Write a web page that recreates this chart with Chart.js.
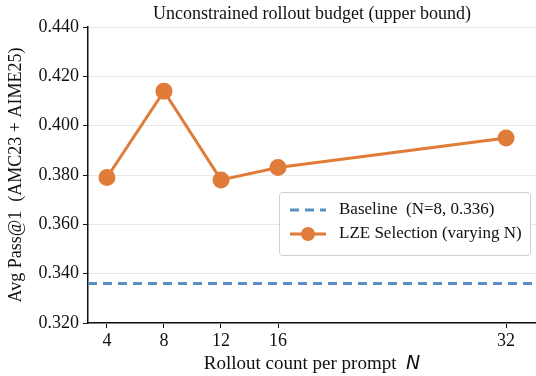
<!DOCTYPE html>
<html>
<head>
<meta charset="utf-8">
<script src="https://cdn.jsdelivr.net/npm/chart.js@4"></script>
<style>
  html, body { margin: 0; padding: 0; background: #fff; }
  #wrap { width: 536px; height: 376px; }
</style>
</head>
<body>
<div id="wrap"><canvas id="canvas" width="536" height="376"></canvas></div>
<script>
var rolloutCounts = [4, 8, 12, 16, 32];
var lzePass = [0.379, 0.414, 0.378, 0.383, 0.395];
var baselineValue = 0.336;
var baselineSpan = [2.67, 34.1];
var yTicks = [0.320, 0.340, 0.360, 0.380, 0.400, 0.420, 0.440];

var orange = '#E07B39';
var blue = '#5A8FC2';
var serif = "'Liberation Serif', 'Times New Roman', serif";

// title centred over the plot area
var plotTitle = {
    id: 'plotTitle',
    afterDraw: function(chart) {
        var ctx = chart.ctx;
        var a = chart.chartArea;
        ctx.save();
        ctx.font = '18px ' + serif;
        ctx.fillStyle = '#111';
        ctx.textAlign = 'center';
        ctx.textBaseline = 'middle';
        ctx.fillText('Unconstrained rollout budget (upper bound)', (a.left + a.right) / 2, 14);
        ctx.restore();
    }
};

// legend box drawn inside the plot, like matplotlib's
var boxLegend = {
    id: 'boxLegend',
    afterDraw: function(chart) {
        var ctx = chart.ctx;
        var x = 279, y = 192, w = 251, h = 63;
        ctx.save();
        ctx.fillStyle = 'rgba(255,255,255,0.9)';
        ctx.strokeStyle = '#d0d0d0';
        ctx.lineWidth = 1;
        ctx.beginPath();
        ctx.roundRect(x + 0.5, y + 0.5, w, h, 3);
        ctx.fill();
        ctx.stroke();
        ctx.font = '17px ' + serif;
        ctx.textBaseline = 'middle';
        chart.data.datasets.forEach(function(ds, i) {
            var cy = y + 18 + i * 24;
            ctx.strokeStyle = ds.borderColor;
            ctx.lineWidth = 3;
            ctx.setLineDash(ds.borderDash || []);
            ctx.beginPath();
            ctx.moveTo(x + 11, cy);
            ctx.lineTo(x + 47, cy);
            ctx.stroke();
            ctx.setLineDash([]);
            if (ds.pointRadius) {
                ctx.fillStyle = ds.pointBackgroundColor;
                ctx.beginPath();
                ctx.arc(x + 29, cy, 7, 0, Math.PI * 2);
                ctx.fill();
            }
            ctx.fillStyle = '#111';
            ctx.fillText(ds.label, x + 60, cy);
        });
        ctx.restore();
    }
};

// x title with italic N
var xTitle = {
    id: 'xTitle',
    afterDraw: function(chart) {
        var ctx = chart.ctx;
        var a = chart.chartArea;
        var part1 = 'Rollout count per prompt  ';
        var part2 = 'N';
        ctx.save();
        ctx.font = '19px ' + serif;
        var w1 = ctx.measureText(part1).width;
        ctx.font = 'italic 19px DejaVu Sans';
        var w2 = ctx.measureText(part2).width;
        var cx = (a.left + a.right) / 2;
        var sx = cx - (w1 + w2) / 2;
        ctx.fillStyle = '#111';
        ctx.textBaseline = 'alphabetic';
        ctx.font = '19px ' + serif;
        ctx.fillText(part1, sx, 369);
        ctx.font = 'italic 19px DejaVu Sans';
        ctx.fillText(part2, sx + w1, 369);
        ctx.restore();
    }
};

var ctx = document.getElementById('canvas').getContext('2d');
window.chart = new Chart(ctx, {
    type: 'line',
    data: {
        datasets: [{
            label: 'Baseline  (N=8, 0.336)',
            data: baselineSpan.map(function(x) { return { x: x, y: baselineValue }; }),
            borderColor: blue,
            borderWidth: 3,
            borderDash: [9, 6],
            pointRadius: 0,
            fill: false
        }, {
            label: 'LZE Selection (varying N)',
            data: rolloutCounts.map(function(n, i) { return { x: n, y: lzePass[i] }; }),
            borderColor: orange,
            backgroundColor: orange,
            pointBackgroundColor: orange,
            pointBorderColor: orange,
            borderWidth: 3,
            pointRadius: 7,
            tension: 0,
            fill: false
        }]
    },
    options: {
        responsive: false,
        animation: false,
        layout: { autoPadding: false, padding: { top: 27, right: 0, left: 0, bottom: 0 } },
        plugins: {
            legend: { display: false },
            tooltip: { enabled: false }
        },
        scales: {
            x: {
                type: 'linear',
                min: baselineSpan[0],
                max: baselineSpan[1],
                afterBuildTicks: function(scale) {
                    scale.ticks = rolloutCounts.map(function(v) { return { value: v }; });
                },
                afterFit: function(scale) {
                    scale.height = 53;
                    scale.paddingRight = 0;
                    scale.paddingLeft = 0;
                },
                border: { color: '#111', width: 1.5 },
                grid: { drawOnChartArea: false, drawTicks: true, tickLength: 5, tickColor: '#111' },
                ticks: {
                    color: '#111',
                    font: { family: serif, size: 18 },
                    padding: 2,
                    maxRotation: 0
                }
            },
            y: {
                min: 0.320,
                max: 0.440,
                afterBuildTicks: function(scale) {
                    scale.ticks = yTicks.map(function(v) { return { value: v }; });
                },
                afterFit: function(scale) {
                    scale.width = 88;
                    scale.paddingTop = 0;
                    scale.paddingBottom = 0;
                },
                border: { color: '#111', width: 1.5 },
                grid: { color: '#e8e8e8', lineWidth: 1, drawTicks: true, tickLength: 5, tickColor: '#111' },
                ticks: {
                    color: '#111',
                    font: { family: serif, size: 18 },
                    padding: 4,
                    callback: function(v) { return v.toFixed(3); }
                },
                title: {
                    display: true,
                    text: 'Avg Pass@1  (AMC23 + AIME25)',
                    color: '#111',
                    font: { family: serif, size: 18 },
                    padding: { top: 5, bottom: 0 }
                }
            }
        }
    },
    plugins: [plotTitle, boxLegend, xTitle]
});
</script>
</body>
</html>
